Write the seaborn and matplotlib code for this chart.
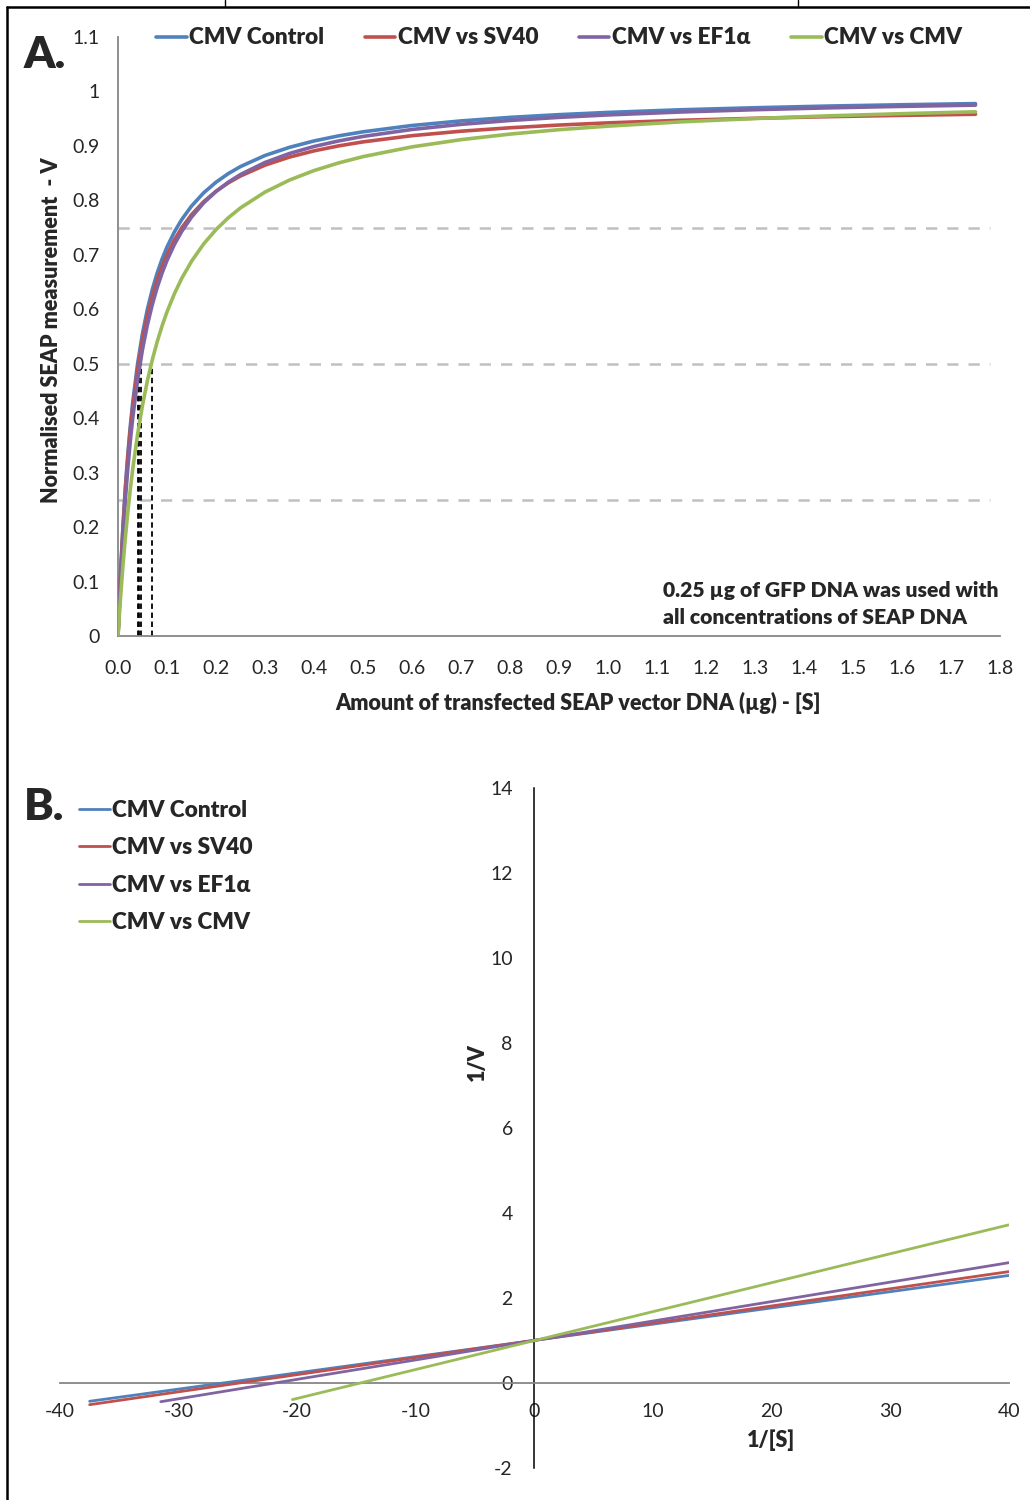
import numpy as np
import pandas as pd
import matplotlib
matplotlib.use("Agg")
import matplotlib.pyplot as plt
from matplotlib.lines import Line2D
import seaborn as sns

# ---------------- data ----------------
series = ["CMV Control", "CMV vs SV40", "CMV vs EF1α", "CMV vs CMV"]
colors = ["#4F81BD", "#C0504D", "#8064A2", "#9BBB59"]

# Panel A: SEAP amount [S] (µg) vs normalised measurement V
s_values = [0, 0.005, 0.01, 0.015, 0.02, 0.025, 0.03, 0.04, 0.05, 0.06, 0.07,
            0.08, 0.09, 0.10, 0.115, 0.13, 0.15, 0.175, 0.2, 0.225, 0.25, 0.3,
            0.35, 0.4, 0.45, 0.5, 0.6, 0.7, 0.8, 0.9, 1.0, 1.15, 1.3, 1.45,
            1.6, 1.75]
v_control = [0, 0.1111, 0.2000, 0.2727, 0.3333, 0.3846, 0.4286, 0.5000,
             0.5556, 0.6000, 0.6364, 0.6667, 0.6923, 0.7143, 0.7419, 0.7647,
             0.7895, 0.8140, 0.8333, 0.8491, 0.8621, 0.8824, 0.8974, 0.9091,
             0.9184, 0.9259, 0.9375, 0.9459, 0.9524, 0.9574, 0.9615, 0.9664,
             0.9701, 0.9732, 0.9756, 0.9777]
v_sv40 = [0, 0.1089, 0.1960, 0.2673, 0.3267, 0.3769, 0.4200, 0.4900, 0.5444,
          0.5880, 0.6236, 0.6533, 0.6785, 0.7000, 0.7271, 0.7494, 0.7737,
          0.7977, 0.8167, 0.8321, 0.8448, 0.8647, 0.8795, 0.8909, 0.9000,
          0.9074, 0.9188, 0.9270, 0.9333, 0.9383, 0.9423, 0.9471, 0.9507,
          0.9537, 0.9561, 0.9581]
v_ef1a = [0, 0.1000, 0.1818, 0.2500, 0.3077, 0.3571, 0.4000, 0.4706, 0.5263,
          0.5714, 0.6087, 0.6400, 0.6667, 0.6897, 0.7188, 0.7429, 0.7692,
          0.7955, 0.8163, 0.8333, 0.8475, 0.8696, 0.8861, 0.8989, 0.9091,
          0.9174, 0.9302, 0.9396, 0.9467, 0.9524, 0.9569, 0.9623, 0.9665,
          0.9699, 0.9726, 0.9749]
v_cmv = [0, 0.0685, 0.1282, 0.1807, 0.2273, 0.2688, 0.3061, 0.3704, 0.4237,
         0.4688, 0.5072, 0.5405, 0.5696, 0.5952, 0.6284, 0.6566, 0.6881,
         0.7202, 0.7463, 0.7679, 0.7862, 0.8152, 0.8373, 0.8547, 0.8687,
         0.8803, 0.8982, 0.9115, 0.9217, 0.9298, 0.9363, 0.9442, 0.9503,
         0.9552, 0.9592, 0.9626]
half_max_s = [0.040, 0.042, 0.046, 0.070]   # [S] at V = 0.5
guide_levels = [0.25, 0.5, 0.75]
a_xticks = [0.0, 0.1, 0.2, 0.3, 0.4, 0.5, 0.6, 0.7, 0.8, 0.9, 1.0,
            1.1, 1.2, 1.3, 1.4, 1.5, 1.6, 1.7, 1.8]
a_yticks = [0, 0.1, 0.2, 0.3, 0.4, 0.5, 0.6, 0.7, 0.8, 0.9, 1, 1.1]
a_yticklabels = ["0", "0.1", "0.2", "0.3", "0.4", "0.5", "0.6", "0.7", "0.8",
                 "0.9", "1", "1.1"]

# Panel B: Lineweaver-Burk lines (1/[S] vs 1/V)
inv_s_control = [-37.5, 40]
inv_v_control = [-0.43, 2.53]
inv_s_sv40 = [-37.5, 40]
inv_v_sv40 = [-0.51, 2.62]
inv_s_ef1a = [-31.5, 40]
inv_v_ef1a = [-0.44, 2.83]
inv_s_cmv = [-20.4, 40]
inv_v_cmv = [-0.39, 3.72]
b_xticks = [-40, -30, -20, -10, 0, 10, 20, 30, 40]
b_yticks = [-2, 0, 2, 4, 6, 8, 10, 12, 14]

# ---------------- style ----------------
sns.set_style("white")
plt.rcParams["font.family"] = ["Lato", "DejaVu Sans"]
plt.rcParams["axes.unicode_minus"] = False

palette = dict(zip(series, colors))
W, H = 1030, 1500
fig = plt.figure(figsize=(W / 100, H / 100), dpi=100)


def fx(px):
    return px / W


def fy(py):
    return 1 - py / H


spine_gray = "#868686"
tick_fs = 14
lab_fs = 15.5
leg_fs = 16.3
bold = "heavy"

# ---------------- Panel A ----------------
axA = fig.add_axes([fx(118), fy(636), fx(1000) - fx(118), fy(37) - fy(636)])
df_a = pd.DataFrame({
    "S": s_values * 4,
    "V": v_control + v_sv40 + v_ef1a + v_cmv,
    "series": sum([[n] * len(s_values) for n in series], []),
})
for lvl in guide_levels:
    axA.plot([0, 1.78], [lvl, lvl], color="#C0C0C0", lw=1.8,
             dashes=(4.5, 4), zorder=1)
for k in half_max_s:
    axA.plot([k, k], [0, 0.5], color="black", lw=1.3, dashes=(3, 2), zorder=1)
sns.lineplot(data=df_a, x="S", y="V", hue="series", hue_order=series,
             palette=palette, estimator=None, sort=False, linewidth=2.6,
             legend=False, ax=axA, zorder=3, solid_joinstyle="round")
axA.set_xlim(0, 1.8)
axA.set_ylim(0, 1.1)
axA.set_xticks(a_xticks)
axA.set_xticklabels([f"{t:.1f}" for t in a_xticks])
axA.set_yticks(a_yticks)
axA.set_yticklabels(a_yticklabels)
axA.set_xlabel("")
axA.set_ylabel("")
for sp in ["top", "right"]:
    axA.spines[sp].set_visible(False)
for sp in ["left", "bottom"]:
    axA.spines[sp].set_color(spine_gray)
    axA.spines[sp].set_linewidth(1.3)
axA.tick_params(axis="x", direction="out", length=7, width=1.2,
                color=spine_gray, pad=10.5, labelsize=tick_fs)
axA.tick_params(axis="y", direction="out", length=6, width=1.2,
                color=spine_gray, pad=7, labelsize=tick_fs)

fig.text(fx(578), fy(703), "Amount of transfected SEAP vector DNA (µg) - [S]",
         ha="center", va="center", fontsize=lab_fs, fontweight=bold)
fig.text(fx(52), fy(330), "Normalised SEAP measurement  - V", rotation=90,
         ha="center", va="center", fontsize=lab_fs, fontweight=bold)
fig.text(fx(663), fy(590), "0.25 µg of GFP DNA was used with",
         ha="left", va="center", fontsize=15.2, fontweight=bold)
fig.text(fx(663), fy(618), "all concentrations of SEAP DNA",
         ha="left", va="center", fontsize=15.2, fontweight=bold)
fig.text(fx(24), fy(68), "A.", ha="left", va="baseline", fontsize=32,
         fontweight=bold)

handles = [Line2D([0], [0], color=c, lw=2.6) for c in colors]
legA = fig.legend(handles, series, loc="center left",
                  bbox_to_anchor=(fx(156), fy(38)), ncol=4, frameon=False,
                  handlelength=1.35, handletextpad=0.1, columnspacing=1.8,
                  borderaxespad=0, borderpad=0,
                  prop={"size": leg_fs, "weight": bold})

# ---------------- Panel B ----------------
axB = fig.add_axes([fx(60), fy(1468), fx(1008.6) - fx(60), fy(788) - fy(1468)])
df_b = pd.DataFrame({
    "x": inv_s_control + inv_s_sv40 + inv_s_ef1a + inv_s_cmv,
    "y": inv_v_control + inv_v_sv40 + inv_v_ef1a + inv_v_cmv,
    "series": sum([[n] * 2 for n in series], []),
})
sns.lineplot(data=df_b, x="x", y="y", hue="series", hue_order=series,
             palette=palette, estimator=None, sort=False, linewidth=2.0,
             legend=False, ax=axB, zorder=3)
axB.set_xlim(-40, 40)
axB.set_ylim(-2, 14)
axB.set_xticks(b_xticks)
axB.set_yticks(b_yticks)
axB.set_xlabel("")
axB.set_ylabel("")
for sp in ["top", "right"]:
    axB.spines[sp].set_visible(False)
axB.spines["left"].set_position(("data", 0))
axB.spines["bottom"].set_position(("data", 0))
axB.spines["left"].set_color("black")
axB.spines["bottom"].set_color(spine_gray)
axB.spines["left"].set_linewidth(1.1)
axB.spines["bottom"].set_linewidth(1.3)
axB.tick_params(axis="x", direction="out", length=6, width=1.2,
                color=spine_gray, pad=8.5, labelsize=tick_fs)
axB.tick_params(axis="y", direction="out", length=6, width=1.0,
                color="black", pad=9.5, labelsize=tick_fs)
axB.text(20, -1.35, "1/[S]", ha="center", va="center", fontsize=lab_fs,
         fontweight=bold)
axB.text(-4.8, 7.55, "1/V", ha="center", va="center", rotation=90,
         fontsize=lab_fs, fontweight=bold)
fig.text(fx(24), fy(820), "B.", ha="left", va="baseline", fontsize=32,
         fontweight=bold)
legB = fig.legend(handles, series, loc="upper left",
                  bbox_to_anchor=(fx(79), fy(800)), ncol=1, frameon=False,
                  handlelength=1.35, handletextpad=0.1, labelspacing=0.72,
                  borderaxespad=0, borderpad=0,
                  prop={"size": leg_fs, "weight": bold})
for lh in legB.get_lines():
    lh.set_linewidth(2.0)

# ---------------- frame ----------------
fig.add_artist(Line2D([fx(7), fx(7)], [fy(7), 0], color="black", lw=1.8))
fig.add_artist(Line2D([fx(7), 1], [fy(7), fy(7)], color="black", lw=1.8))
fig.add_artist(Line2D([fx(225), fx(225)], [1, fy(7)], color="black", lw=1))
fig.add_artist(Line2D([fx(798), fx(798)], [1, fy(7)], color="black", lw=1))

fig.savefig("out.png", dpi=100)
